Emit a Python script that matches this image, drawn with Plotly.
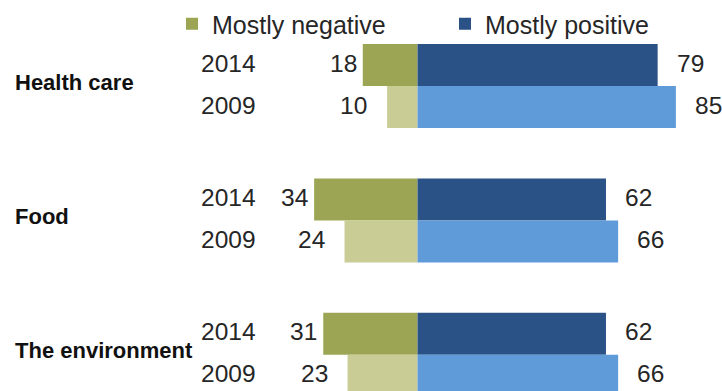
import plotly.graph_objects as go

categories = ["Health care", "Food", "The environment"]
years = ["2014", "2009"]
negative_2014 = [18, 34, 31]
negative_2009 = [10, 24, 23]
positive_2014 = [79, 62, 62]
positive_2009 = [85, 66, 66]

C_NEG14 = "#9ba553"
C_NEG09 = "#c9cd95"
C_POS14 = "#2b5287"
C_POS09 = "#5f9bd9"
TXT = "#262626"
NUM_FONT = "Liberation Sans, Arial, sans-serif"

GROUP_GAP = 3.2
pos14 = [g * GROUP_GAP for g in range(len(categories))]
pos09 = [g * GROUP_GAP + 1 for g in range(len(categories))]

fig = go.Figure()
fig.add_bar(y=pos14, x=[-v for v in negative_2014], orientation="h", width=1,
            marker=dict(color=C_NEG14, line=dict(width=0)), name="Mostly negative",
            legendrank=1)
fig.add_bar(y=pos09, x=[-v for v in negative_2009], orientation="h", width=1,
            marker=dict(color=C_NEG09, line=dict(width=0)), showlegend=False)
fig.add_bar(y=pos14, x=positive_2014, orientation="h", width=1,
            marker=dict(color=C_POS14, line=dict(width=0)), name="Mostly positive",
            legendrank=2)
fig.add_bar(y=pos09, x=positive_2009, orientation="h", width=1,
            marker=dict(color=C_POS09, line=dict(width=0)), showlegend=False)

ann = []
for g, cat in enumerate(categories):
    ann.append(dict(x=13 / 722, xref="paper", y=g * GROUP_GAP + 0.5, yref="y",
                    text="<b>" + cat + "</b>", showarrow=False, xanchor="left",
                    yanchor="middle", yshift=4,
                    font=dict(family=NUM_FONT, size=22, color="#111111")))
    for j, (yr, neg, pos, ngap) in enumerate([
            (years[0], negative_2014[g], positive_2014[g], 4),
            (years[1], negative_2009[g], positive_2009[g], 18)]):
        yv = g * GROUP_GAP + j
        ann.append(dict(x=258 / 722, xref="paper", y=yv, yref="y", text=yr,
                        showarrow=False, xanchor="right", yanchor="middle",
                        yshift=2,
                        font=dict(family=NUM_FONT, size=24.5, color=TXT)))
        ann.append(dict(x=-neg, xref="x", y=yv, yref="y", text=str(neg),
                        showarrow=False, xanchor="right", yanchor="middle",
                        xshift=-ngap, yshift=2,
                        font=dict(family=NUM_FONT, size=24.5, color=TXT)))
        ann.append(dict(x=pos, xref="x", y=yv, yref="y", text=str(pos),
                        showarrow=False, xanchor="left", yanchor="middle",
                        xshift=17, yshift=2,
                        font=dict(family=NUM_FONT, size=24.5, color=TXT)))

SCALE = 3.04
ZERO_PX = 417.5
top = -0.5 - 44 / 42

fig.update_layout(
    width=722, height=391,
    margin=dict(l=0, r=0, t=0, b=0, autoexpand=False),
    paper_bgcolor="white", plot_bgcolor="white",
    barmode="overlay",
    showlegend=True,
    legend=dict(orientation="h", x=172 / 722, xanchor="left",
                y=1 - 1 / 391, yanchor="top",
                font=dict(family=NUM_FONT, size=25, color=TXT),
                entrywidth=228, entrywidthmode="pixels",
                bgcolor="rgba(0,0,0,0)", traceorder="normal"),
    xaxis=dict(range=[-ZERO_PX / SCALE, (722 - ZERO_PX) / SCALE], visible=False,
               fixedrange=True),
    yaxis=dict(range=[top + 391 / 42, top], visible=False, fixedrange=True),
    annotations=ann,
)

fig.write_html("out.html")
